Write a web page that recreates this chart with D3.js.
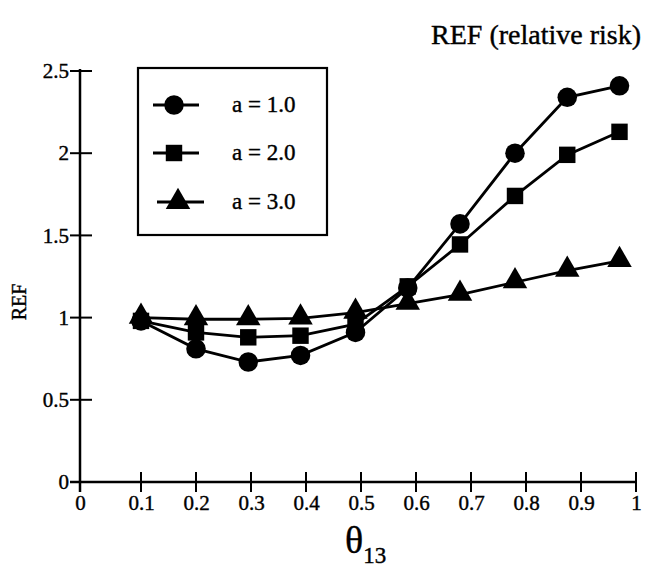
<!DOCTYPE html>
<html><head><meta charset="utf-8">
<script src="https://cdn.jsdelivr.net/npm/d3@7"></script>
<style>body{margin:0;background:#fff}svg{display:block}svg text{font-family:"Liberation Serif","Times New Roman",serif !important;fill:#000;stroke:#000;stroke-width:0.4px}
.tick text{font-size:21px !important}</style>
</head><body><svg id="c" width="645" height="586"></svg>
<script>
const theta = [0.1, 0.2, 0.295, 0.39, 0.49, 0.585, 0.68, 0.78, 0.875, 0.97];
const refA1 = [0.98, 0.81, 0.73, 0.77, 0.91, 1.18, 1.57, 2.0, 2.34, 2.41];
const refA2 = [0.98, 0.91, 0.88, 0.89, 0.96, 1.19, 1.445, 1.74, 1.99, 2.13];
const refA3 = [1.0, 0.99, 0.99, 0.995, 1.03, 1.085, 1.14, 1.215, 1.285, 1.345];
const seriesNames = ["a = 1.0", "a = 2.0", "a = 3.0"];
const xTicks = [0, 0.1, 0.2, 0.3, 0.4, 0.5, 0.6, 0.7, 0.8, 0.9, 1];
const yTicks = [0, 0.5, 1, 1.5, 2, 2.5];
const yTickLabels = ["0", "0.5", "1", "1.5", "2", "2.5"];

const svg = d3.select("#c");
const x = d3.scaleLinear().domain([0, 0.1, 1]).range([80, 141, 636]);
const y = d3.scaleLinear().domain([0, 2.5]).range([482, 71]);

// axes
const xAxis = svg.append("g").attr("transform", "translate(0," + y(0) + ")")
  .call(d3.axisBottom(x).tickValues(xTicks).tickSize(0).tickPadding(13)
    .tickFormat(d => d === 0 ? "0" : d === 1 ? "1" : d3.format(".1f")(d)));
xAxis.attr("font-size", 21);
xAxis.select(".domain").remove();
xAxis.selectAll("text").attr("font-size", 21);
svg.append("line").attr("x1", 70).attr("x2", x(1)).attr("y1", y(0)).attr("y2", y(0))
  .attr("stroke", "#000").attr("stroke-width", 2.5);
svg.selectAll(".xt").data(xTicks).join("line")
  .attr("x1", d => x(d)).attr("x2", d => x(d))
  .attr("y1", y(0) - 10).attr("y2", y(0) + 10)
  .attr("stroke", "#000").attr("stroke-width", 2);

const yAxis = svg.append("g").attr("transform", "translate(" + x(0) + ",0)")
  .call(d3.axisLeft(y).tickValues(yTicks).tickSize(0).tickPadding(11)
    .tickFormat((d, i) => yTickLabels[i]));
yAxis.attr("font-size", 21);
yAxis.select(".domain").remove();
yAxis.selectAll("text").attr("font-size", 21);
svg.append("line").attr("x1", x(0)).attr("x2", x(0)).attr("y1", y(2.5) - 2).attr("y2", y(0) + 10)
  .attr("stroke", "#000").attr("stroke-width", 2.5);
svg.selectAll(".yt").data(yTicks).join("line")
  .attr("x1", x(0) - 10).attr("x2", x(0) + 12)
  .attr("y1", d => y(d)).attr("y2", d => y(d))
  .attr("stroke", "#000").attr("stroke-width", 2);

// titles
svg.append("text").attr("x", 641).attr("y", 44).attr("text-anchor", "end")
  .style("font-size", "28px").text("REF (relative risk)");
svg.append("text").attr("transform", "translate(26,302) rotate(-90)")
  .attr("text-anchor", "middle").style("font-size", "20px").text("REF");
const xl = svg.append("text").attr("x", 345).attr("y", 553).style("font-size", "38px");
xl.append("tspan").text("θ");
xl.append("tspan").style("font-size", "23px").attr("dy", 10).text("13");

// series
const all = [refA1, refA2, refA3];
const symbols = [d3.symbolCircle, d3.symbolSquare, d3.symbolTriangle];
const sizes = [300, 270, 260];
const line = d3.line().x((d, i) => x(theta[i])).y(d => y(d));
[2, 1, 0].forEach(k => {
  svg.append("path").attr("d", line(all[k])).attr("fill", "none")
    .attr("stroke", "#000").attr("stroke-width", 2.8);
});
[2, 1, 0].forEach(k => {
  svg.selectAll(".m" + k).data(all[k]).join("path")
    .attr("transform", (d, i) => "translate(" + x(theta[i]) + "," + (y(d) + (k === 2 ? -1 : 0)) + ")")
    .attr("d", d3.symbol().type(symbols[k]).size(sizes[k]));
});

// legend
const lg = svg.append("g");
lg.append("rect").attr("x", 138).attr("y", 68).attr("width", 189).attr("height", 167)
  .attr("fill", "#fff").attr("stroke", "#000").attr("stroke-width", 2.2);
const ly = [105, 153, 202];
seriesNames.forEach((n, k) => {
  lg.append("line").attr("x1", k === 2 ? 157 : 153).attr("x2", k === 2 ? 204 : 199)
    .attr("y1", ly[k]).attr("y2", ly[k]).attr("stroke", "#000").attr("stroke-width", 2.8);
  lg.append("path").attr("transform", "translate(" + (k === 2 ? 178 : 174) + "," + ly[k] + ")")
    .attr("d", d3.symbol().type(symbols[k]).size(sizes[k]));
  lg.append("text").attr("x", 232).attr("y", ly[k] + 7).style("font-size", "23px").text(n);
});
</script></body></html>
